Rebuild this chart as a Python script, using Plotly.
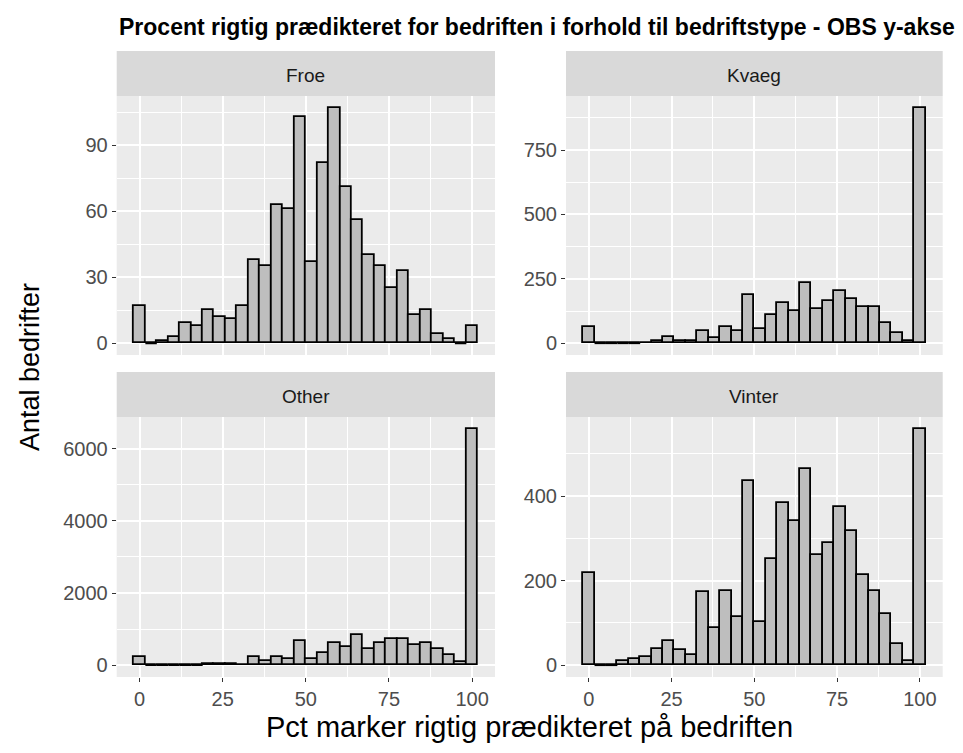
import numpy as np
import plotly.graph_objects as go

# ---- data -------------------------------------------------------------
n_bins = 30
bin_width = 100 / 29
bin_centers = np.arange(n_bins) * bin_width

facets = ["Froe", "Kvaeg", "Other", "Vinter"]

froe = [17, 0, 1, 3, 9, 8, 15, 12, 11, 17, 38, 35, 63, 61, 103, 37, 82, 107,
        71, 56, 40, 35, 25, 33, 13, 15, 4, 2, 0, 8]
kvaeg = [62, 0, 0, 0, 0, 2, 8, 23, 8, 8, 47, 22, 62, 47, 187, 55, 109, 156,
         125, 234, 133, 164, 203, 172, 141, 141, 78, 39, 8, 914]
other = [240, 0, 0, 0, 0, 0, 40, 40, 40, 5, 240, 110, 240, 185, 680, 185, 350,
         625, 515, 850, 460, 625, 735, 735, 570, 625, 460, 295, 75, 6550]
vinter = [219, 0, 0, 9, 14, 19, 39, 58, 35, 24, 172, 87, 176, 115, 436, 101,
          252, 384, 342, 465, 261, 290, 375, 318, 214, 176, 120, 49, 11, 559]

counts = [froe, kvaeg, other, vinter]
y_major = [30, 250, 2000, 200]

x_ticks = [0, 25, 50, 75, 100]

title = "Procent rigtig prædikteret for bedriften i forhold til bedriftstype - OBS y-akse"
x_title = "Pct marker rigtig prædikteret på bedriften"
y_title = "Antal bedrifter"

# ---- layout geometry (pixels) -----------------------------------------
W, H = 963, 753
col_px = [(116.7, 495.0), (566.0, 942.7)]
row_px = [(96.0, 355.0), (417.0, 677.0)]
strip_h = 45.0

FONT = "Liberation Sans, Arial, sans-serif"

fig = go.Figure()
layout = dict(
    width=W, height=H,
    margin=dict(l=0, r=0, t=0, b=0),
    paper_bgcolor="white",
    plot_bgcolor="#EBEBEB",
    showlegend=False,
    bargap=0,
    font=dict(family=FONT, color="#4D4D4D"),
)
shapes = []
annotations = []

lo_x = -0.05 * 103.448 - bin_width / 2
hi_x = 100 + bin_width / 2 + 0.05 * 103.448

for k, (name, c) in enumerate(zip(facets, counts)):
    r, col = divmod(k, 2)
    ax = "" if k == 0 else str(k + 1)
    x0p, x1p = col_px[col]
    y0p, y1p = row_px[r]
    c = np.array(c, dtype=float)
    fig.add_trace(go.Bar(
        x=bin_centers, y=c, width=bin_width,
        marker=dict(color="#BEBEBE", line=dict(color="black", width=1.8)),
        xaxis="x" + ax, yaxis="y" + ax, hoverinfo="x+y",
    ))
    # zero-count bins are drawn as a flat line in ggplot
    zx, zy = [], []
    for xc, v in zip(bin_centers, c):
        if v == 0:
            zx += [xc - bin_width / 2, xc + bin_width / 2, None]
            zy += [0, 0, None]
    if zx:
        fig.add_trace(go.Scatter(x=zx, y=zy, mode="lines",
                                 line=dict(color="black", width=1.8),
                                 xaxis="x" + ax, yaxis="y" + ax, hoverinfo="skip"))
    ymax = c.max()
    layout["xaxis" + ax] = dict(
        domain=[x0p / W, x1p / W], anchor="y" + ax,
        range=[lo_x, hi_x], tickvals=x_ticks, ticktext=[str(t) for t in x_ticks],
        showticklabels=(r == 1), ticks="outside" if r == 1 else "",
        ticklen=4, tickwidth=1.1, tickcolor="#333333",
        tickfont=dict(size=20, color="#4D4D4D", family=FONT),
        showgrid=True, gridcolor="white", gridwidth=1.6, zeroline=False,
        showline=False,
        minor=dict(tick0=12.5, dtick=25, showgrid=True, gridcolor="white",
                   gridwidth=0.8, ticks=""),
        fixedrange=True,
    )
    dt = y_major[k]
    layout["yaxis" + ax] = dict(
        domain=[1 - y1p / H, 1 - y0p / H], anchor="x" + ax,
        range=[-0.05 * ymax, 1.05 * ymax], tick0=0, dtick=dt,
        ticks="outside", ticklen=4, tickwidth=1.1, tickcolor="#333333",
        tickfont=dict(size=20, color="#4D4D4D", family=FONT),
        showgrid=True, gridcolor="white", gridwidth=1.6, zeroline=False,
        showline=False,
        minor=dict(tick0=dt / 2, dtick=dt, showgrid=True, gridcolor="white",
                   gridwidth=0.8, ticks=""),
        fixedrange=True,
    )
    # strip
    shapes.append(dict(type="rect", xref="paper", yref="paper",
                       x0=x0p / W, x1=x1p / W,
                       y0=1 - y0p / H, y1=1 - (y0p - strip_h) / H,
                       fillcolor="#D9D9D9", line=dict(width=0), layer="below"))
    annotations.append(dict(text=name, xref="paper", yref="paper",
                            x=(x0p + x1p) / 2 / W, y=1 - (y0p - strip_h / 2 + 2) / H,
                            showarrow=False, xanchor="center", yanchor="middle",
                            font=dict(size=19, color="#1A1A1A", family=FONT)))

annotations.append(dict(text="<b>" + title + "</b>", xref="paper", yref="paper",
                        x=117 / W, y=1 - 27 / H, showarrow=False,
                        xanchor="left", yanchor="middle",
                        font=dict(size=23, color="black", family=FONT)))
annotations.append(dict(text=x_title, xref="paper", yref="paper",
                        x=(col_px[0][0] + col_px[1][1]) / 2 / W, y=1 - 727 / H,
                        showarrow=False, xanchor="center", yanchor="middle",
                        font=dict(size=29, color="black", family=FONT)))
annotations.append(dict(text=y_title, xref="paper", yref="paper",
                        x=30 / W, y=1 - 367 / H, showarrow=False, textangle=-90,
                        xanchor="center", yanchor="middle",
                        font=dict(size=27, color="black", family=FONT)))

layout["shapes"] = shapes
layout["annotations"] = annotations
fig.update_layout(**layout)
fig.write_html("out.html")
